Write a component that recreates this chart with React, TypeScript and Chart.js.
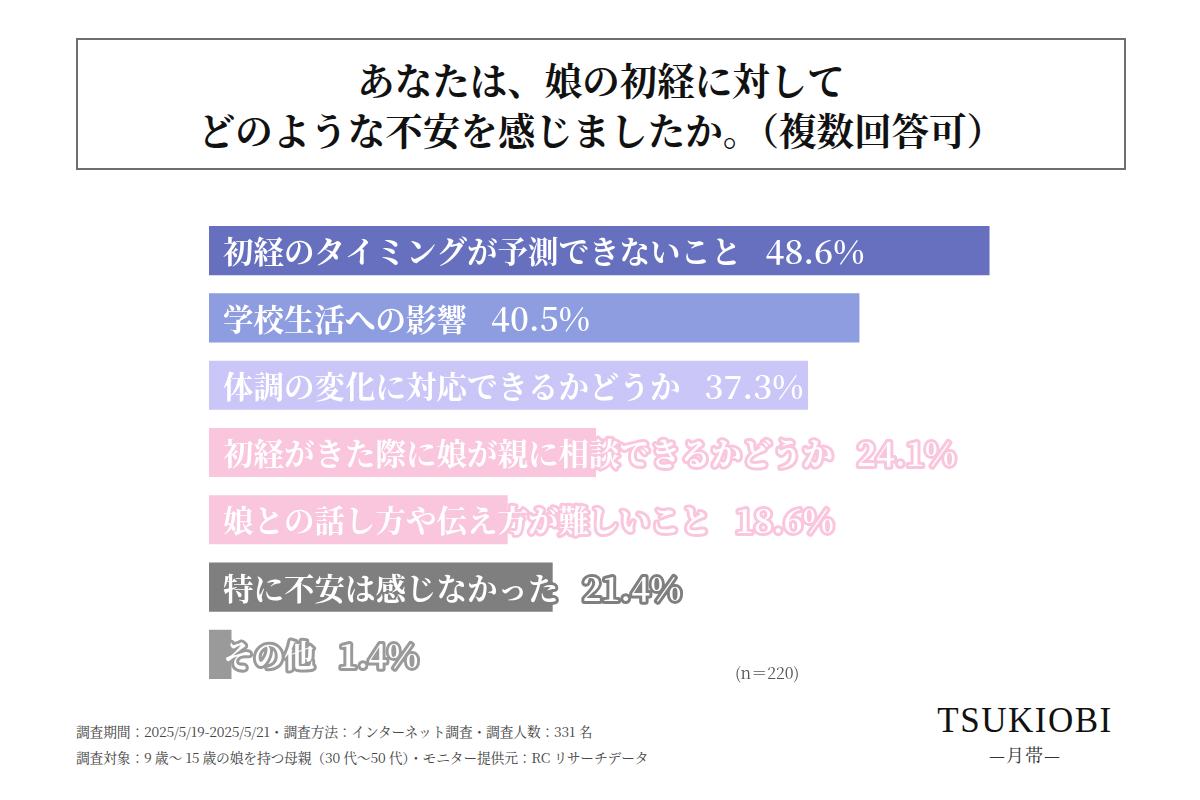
import React, { useEffect, useRef } from "react";
import { Chart, registerables } from "chart.js";

Chart.register(...registerables);

const categories = [
  "初経のタイミングが予測できないこと",
  "学校生活への影響",
  "体調の変化に対応できるかどうか",
  "初経がきた際に娘が親に相談できるかどうか",
  "娘との話し方や伝え方が難しいこと",
  "特に不安は感じなかった",
  "その他",
];
const values = [48.6, 40.5, 37.3, 24.1, 18.6, 21.4, 1.4];
const barColors = ["#6670BF", "#8E9DE0", "#CAC6F7", "#F9C6DD", "#F9C6DD", "#7F7F7F", "#9A9A9A"];

const titleLines = ["あなたは、娘の初経に対して", "どのような不安を感じましたか。（複数回答可）"];
const sampleNote = "(n＝220)";
const footerLines = [
  "調査期間：2025/5/19-2025/5/21・調査方法：インターネット調査・調査人数：331 名",
  "調査対象：9 歳～ 15 歳の娘を持つ母親（30 代～50 代）・モニター提供元：RC リサーチデータ",
];

const LABEL_FONT = 'bold 30.5px "Noto Serif CJK JP", "Liberation Serif", serif';
const VALUE_FONT = '600 33px "Noto Serif CJK JP", "Liberation Serif", serif';

const labelPlugin = {
  id: "barLabels",
  afterDatasetsDraw(chart: any) {
    const ctx = chart.ctx;
    const meta = chart.getDatasetMeta(0);
    ctx.save();
    ctx.textBaseline = "middle";
    ctx.textAlign = "left";
    ctx.lineJoin = "round";
    meta.data.forEach((bar: any, i: number) => {
      const x = chart.chartArea.left + 14;
      const y = bar.y + 1;
      const label = categories[i];
      const val = values[i].toFixed(1) + "%";
      ctx.font = LABEL_FONT;
      const lw = ctx.measureText(label).width;
      const vx = x + lw + 24;
      ctx.strokeStyle = barColors[i];
      ctx.lineWidth = 6;
      ctx.strokeText(label, x, y);
      ctx.fillStyle = "#ffffff";
      ctx.fillText(label, x, y);
      ctx.font = VALUE_FONT;
      ctx.strokeText(val, vx, y);
      ctx.fillText(val, vx, y);
    });
    ctx.restore();
  },
};

function BarChart() {
  const ref = useRef<HTMLCanvasElement | null>(null);
  useEffect(() => {
    if (!ref.current) return;
    const chart = new Chart(ref.current, {
      type: "bar",
      data: {
        labels: categories,
        datasets: [
          {
            data: values,
            backgroundColor: barColors,
            borderWidth: 0,
            barPercentage: 0.73,
            categoryPercentage: 1,
          },
        ],
      },
      options: {
        indexAxis: "y",
        responsive: false,
        animation: false,
        devicePixelRatio: 1,
        layout: { padding: 0 },
        plugins: { legend: { display: false }, tooltip: { enabled: false }, title: { display: false } },
        scales: {
          x: { min: 0, max: 50, display: false, grid: { display: false } },
          y: { display: false, grid: { display: false } },
        },
      },
      plugins: [labelPlugin],
    } as any);
    return () => chart.destroy();
  }, []);
  return (
    <canvas
      ref={ref}
      width={803}
      height={471}
      style={{ position: "absolute", left: 209, top: 217, width: 803, height: 471 }}
    />
  );
}

export default function App() {
  return (
    <div
      style={{
        position: "absolute",
        left: 0,
        top: 0,
        width: 1200,
        height: 800,
        background: "#ffffff",
        overflow: "hidden",
      }}
    >
      <div
        style={{
          position: "absolute",
          left: 76,
          top: 38,
          width: 1046,
          height: 128,
          border: "2px solid #6B7075",
          display: "flex",
          flexDirection: "column",
          alignItems: "center",
          justifyContent: "center",
          fontFamily: '"Noto Serif CJK JP", "Noto Sans CJK JP", serif',
          fontWeight: 700,
          fontSize: 37.5,
          lineHeight: "50px",
          color: "#111",
        }}
      >
        {titleLines.map((t, i) => (
          <div key={i}>{t}</div>
        ))}
      </div>
      <BarChart />
      <div
        style={{
          position: "absolute",
          left: 735,
          top: 661,
          fontFamily: '"Noto Serif CJK JP", "Liberation Serif", serif',
          fontSize: 16,
          color: "#555",
        }}
      >
        {sampleNote}
      </div>
      <div
        style={{
          position: "absolute",
          left: 76,
          top: 718,
          fontFamily: '"Noto Serif CJK JP", "Liberation Serif", serif',
          fontSize: 13.8,
          lineHeight: "26px",
          color: "#444",
          letterSpacing: -0.2,
        }}
      >
        {footerLines.map((t, i) => (
          <div key={i}>{t}</div>
        ))}
      </div>
      <div
        style={{
          position: "absolute",
          left: 920,
          top: 701,
          width: 210,
          textAlign: "center",
          color: "#111",
        }}
      >
        <div style={{ fontFamily: '"Liberation Serif", serif', fontSize: 35, letterSpacing: 1.5, lineHeight: "40px" }}>
          TSUKIOBI
        </div>
        <div
          style={{
            fontFamily: '"Noto Serif CJK JP", serif',
            fontSize: 18,
            lineHeight: "26px",
            color: "#333",
            letterSpacing: 1,
          }}
        >
          —月帯—
        </div>
      </div>
    </div>
  );
}
